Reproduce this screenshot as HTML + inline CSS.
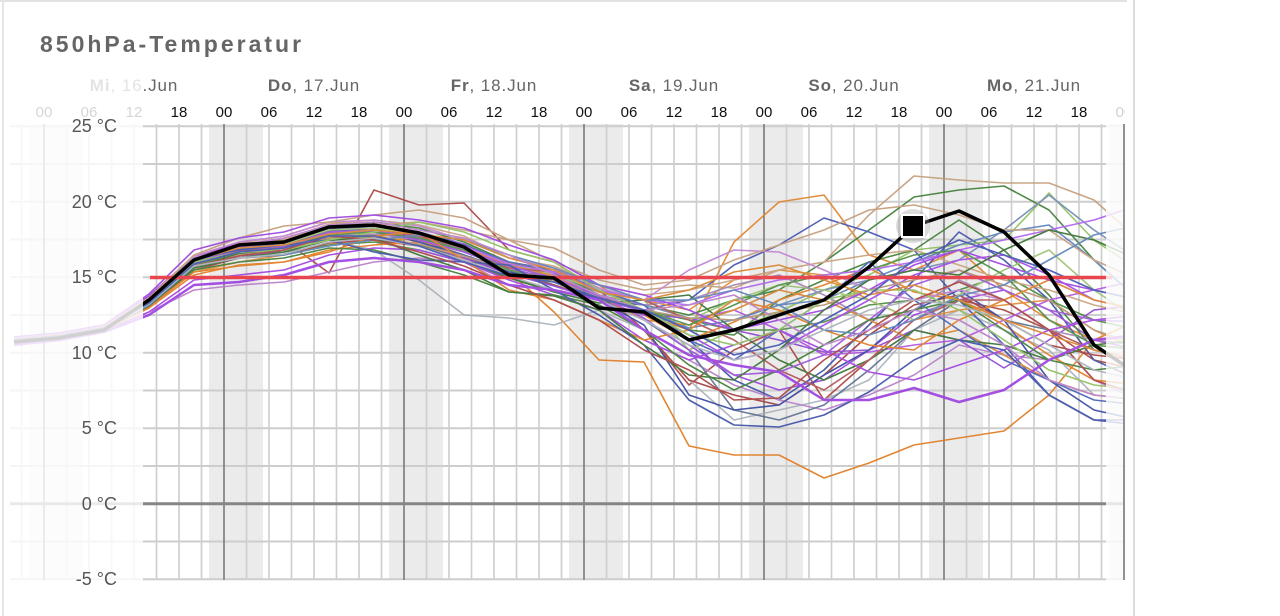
<!DOCTYPE html>
<html><head><meta charset="utf-8">
<style>
html,body{margin:0;padding:0;background:#fff;}
svg{display:block;}
text{font-family:"Liberation Sans",Arial,sans-serif;}
</style></head>
<body>
<svg width="1280" height="616" viewBox="0 0 1280 616" xmlns="http://www.w3.org/2000/svg">
<defs>
<clipPath id="cp"><rect x="8" y="0" width="1117" height="616"/></clipPath>
</defs>
<rect width="1280" height="616" fill="#fff"/>
<rect x="0" y="0" width="1127" height="2" fill="#e2e2e2"/>
<rect x="2" y="0" width="2" height="616" fill="#e6e6e6"/>
<rect x="1133" y="0" width="2" height="616" fill="#dcdcdc"/>

<text x="40" y="52" font-size="23" font-weight="bold" fill="#666" letter-spacing="3">850hPa-Temperatur</text>

<g clip-path="url(#cp)">
<g fill="#ebebeb">
<rect x="29" y="124" width="54" height="456"/>
<rect x="209" y="124" width="54" height="456"/>
<rect x="389" y="124" width="54" height="456"/>
<rect x="569" y="124" width="54" height="456"/>
<rect x="749" y="124" width="54" height="456"/>
<rect x="929" y="124" width="54" height="456"/>
<rect x="1109" y="124" width="54" height="456"/>
</g>
<path d="M10 126.2H1125M10 164H1125M10 201.7H1125M10 239.5H1125M10 277.2H1125M10 315H1125M10 352.7H1125M10 390.5H1125M10 428.2H1125M10 466H1125M10 541.5H1125M10 579.2H1125" stroke="#cdcdcd" stroke-width="2" fill="none"/>
<path d="M21.5 124V580M66.5 124V580M89 124V580M111.5 124V580M134 124V580M156.5 124V580M179 124V580M201.5 124V580M246.5 124V580M269 124V580M291.5 124V580M314 124V580M336.5 124V580M359 124V580M381.5 124V580M426.5 124V580M449 124V580M471.5 124V580M494 124V580M516.5 124V580M539 124V580M561.5 124V580M606.5 124V580M629 124V580M651.5 124V580M674 124V580M696.5 124V580M719 124V580M741.5 124V580M786.5 124V580M809 124V580M831.5 124V580M854 124V580M876.5 124V580M899 124V580M921.5 124V580M966.5 124V580M989 124V580M1011.5 124V580M1034 124V580M1056.5 124V580M1079 124V580M1101.5 124V580" stroke="#cfcfcf" stroke-width="1.7" fill="none"/>
<path d="M44 124V580M224 124V580M404 124V580M584 124V580M764 124V580M944 124V580M1124 124V580" stroke="#7a7a7a" stroke-width="1.6" fill="none"/>
<path d="M10 503.7H1125" stroke="#858585" stroke-width="3" fill="none"/>

<g font-size="17" fill="#666" text-anchor="middle" letter-spacing="0.9">
<text x="134" y="91"><tspan font-weight="bold">Mi</tspan>, 16.Jun</text>
<text x="314" y="91"><tspan font-weight="bold">Do</tspan>, 17.Jun</text>
<text x="494" y="91"><tspan font-weight="bold">Fr</tspan>, 18.Jun</text>
<text x="674" y="91"><tspan font-weight="bold">Sa</tspan>, 19.Jun</text>
<text x="854" y="91"><tspan font-weight="bold">So</tspan>, 20.Jun</text>
<text x="1034" y="91"><tspan font-weight="bold">Mo</tspan>, 21.Jun</text>
</g>
<g font-size="15" fill="#111" text-anchor="middle">
<text x="44" y="117">00</text><text x="89" y="117">06</text><text x="134" y="117">12</text><text x="179" y="117">18</text>
<text x="224" y="117">00</text><text x="269" y="117">06</text><text x="314" y="117">12</text><text x="359" y="117">18</text>
<text x="404" y="117">00</text><text x="449" y="117">06</text><text x="494" y="117">12</text><text x="539" y="117">18</text>
<text x="584" y="117">00</text><text x="629" y="117">06</text><text x="674" y="117">12</text><text x="719" y="117">18</text>
<text x="764" y="117">00</text><text x="809" y="117">06</text><text x="854" y="117">12</text><text x="899" y="117">18</text>
<text x="944" y="117">00</text><text x="989" y="117">06</text><text x="1034" y="117">12</text><text x="1079" y="117">18</text>
<text x="1124" y="117">00</text>
</g>

<g fill="none" stroke-width="1.6" stroke-linejoin="round" opacity="0.9">
<polyline stroke="#e07a1f" points="14,340 59,336 104,328 149,305 194,265 239,255 284,250 329,238 374,235 419,245 464,258 509,272 554,312 599,360 644,362 689,446 734,455 779,455 824,478 869,463 914,445 959,438 1004,431 1049,395 1094,340 1139,320"/>
<polyline stroke="#e0822a" points="14,338 59,334 104,326 149,300 194,262 239,250 284,245 329,232 374,228 419,236 464,250 509,270 554,280 599,300 644,315 689,330 734,242 779,202 824,195 869,255 914,270 959,250 1004,290 1049,320 1094,340 1139,350"/>
<polyline stroke="#a8403c" points="14,342 59,338 104,330 149,300 194,262 239,250 284,240 329,273 374,190 419,205 464,203 509,250 554,262 599,290 644,330 689,385 734,350 779,330 824,400 869,360 914,330 959,300 1004,310 1049,330 1094,360 1139,370"/>
<polyline stroke="#a8b0b8" points="14,338 59,334 104,326 149,305 194,268 239,255 284,250 329,240 374,250 419,280 464,315 509,318 554,325 599,310 644,330 689,380 734,420 779,410 824,400 869,380 914,330 959,310 1004,330 1049,350 1094,395 1139,400"/>
<polyline stroke="#3e7d35" points="14,340 59,336 104,327 149,302 194,262 239,248 284,244 329,230 374,225 419,240 464,255 509,272 554,275 599,300 644,305 689,315 734,300 779,290 824,262 869,230 914,197 959,190 1004,186 1049,210 1094,260 1139,300"/>
<polyline stroke="#c49c7a" points="14,338 59,334 104,326 149,298 194,258 239,243 284,236 329,222 374,215 419,210 464,218 509,240 554,262 599,280 644,290 689,285 734,288 779,270 824,262 869,215 914,176 959,180 1004,183 1049,183 1094,200 1139,240"/>
<polyline stroke="#3b4ea5" points="14,341 59,337 104,329 149,305 194,263 239,247 284,242 329,228 374,228 419,238 464,252 509,268 554,272 599,300 644,305 689,340 734,380 779,400 824,370 869,325 914,280 959,232 1004,260 1049,300 1094,360 1139,380"/>
<polyline stroke="#4050b0" points="14,339 59,335 104,327 149,300 194,258 239,246 284,240 329,228 374,232 419,242 464,255 509,270 554,285 599,300 644,310 689,300 734,265 779,245 824,218 869,232 914,250 959,300 1004,345 1049,395 1094,420 1139,420"/>
<polyline stroke="#8cbf5c" points="14,340 59,336 104,328 149,304 194,268 239,252 284,246 329,234 374,232 419,236 464,244 509,262 554,280 599,290 644,300 689,350 734,330 779,312 824,290 869,275 914,250 959,245 1004,240 1049,193 1094,240 1139,270"/>
<polyline stroke="#b77cc8" points="14,342 59,338 104,330 149,312 194,290 239,285 284,282 329,272 374,262 419,258 464,262 509,285 554,300 599,320 644,340 689,360 734,385 779,400 824,410 869,395 914,375 959,345 1004,355 1049,360 1094,340 1139,335"/>
<polyline stroke="#5c6d90" points="14,339 59,335 104,327 149,302 194,262 239,250 284,246 329,232 374,230 419,240 464,250 509,270 554,285 599,300 644,320 689,350 734,410 779,420 824,405 869,370 914,330 959,300 1004,320 1049,330 1094,380 1139,395"/>
<polyline stroke="#e08a30" points="14,341 59,337 104,329 149,306 194,272 239,262 284,255 329,245 374,238 419,240 464,248 509,262 554,275 599,290 644,300 689,310 734,280 779,270 824,275 869,300 914,320 959,310 1004,305 1049,300 1094,330 1139,350"/>
<polyline stroke="#4a8a3c" points="14,340 59,336 104,328 149,304 194,266 239,254 284,252 329,245 374,242 419,250 464,262 509,278 554,290 599,300 644,310 689,320 734,330 779,330 824,322 869,305 914,300 959,290 1004,275 1049,300 1094,320 1139,330"/>
<polyline stroke="#9a40d8" points="14,337 59,333 104,325 149,296 194,256 239,244 284,240 329,226 374,225 419,232 464,244 509,266 554,274 599,295 644,320 689,345 734,375 779,390 824,380 869,350 914,315 959,300 1004,290 1049,310 1094,340 1139,350"/>
<polyline stroke="#7088b0" points="14,340 59,336 104,328 149,302 194,265 239,252 284,248 329,233 374,230 419,238 464,248 509,266 554,276 599,292 644,305 689,318 734,320 779,305 824,290 869,280 914,270 959,260 1004,230 1049,195 1094,230 1139,260"/>
<polyline stroke="#a33a3a" points="14,342 59,338 104,330 149,307 194,270 239,258 284,255 329,243 374,240 419,246 464,258 509,274 554,285 599,300 644,330 689,380 734,395 779,405 824,375 869,335 914,305 959,295 1004,320 1049,345 1094,355 1139,360"/>
<polyline stroke="#3f7f34" points="14,339 59,335 104,327 149,300 194,260 239,246 284,240 329,226 374,222 419,228 464,242 509,262 554,272 599,295 644,310 689,330 734,335 779,300 824,280 869,262 914,250 959,220 1004,250 1049,295 1094,350 1139,360"/>
<polyline stroke="#b050e0" points="14,341 59,337 104,329 149,304 194,264 239,250 284,246 329,232 374,230 419,236 464,248 509,266 554,272 599,290 644,300 689,320 734,310 779,330 824,355 869,352 914,345 959,340 1004,320 1049,300 1094,290 1139,280"/>
<polyline stroke="#c8a07c" points="14,338 59,334 104,326 149,300 194,262 239,248 284,240 329,224 374,220 419,225 464,236 509,258 554,266 599,285 644,295 689,290 734,280 779,270 824,262 869,255 914,250 959,265 1004,280 1049,290 1094,305 1139,315"/>
<polyline stroke="#e27b22" points="14,342 59,338 104,330 149,308 194,275 239,265 284,262 329,250 374,245 419,242 464,250 509,262 554,270 599,285 644,315 689,340 734,322 779,300 824,285 869,268 914,292 959,300 1004,325 1049,355 1094,380 1139,385"/>
<polyline stroke="#5a7fb8" points="14,340 59,336 104,328 149,303 194,264 239,250 284,245 329,232 374,232 419,238 464,252 509,268 554,280 599,295 644,310 689,328 734,320 779,305 824,300 869,280 914,262 959,245 1004,232 1049,225 1094,260 1139,300"/>
<polyline stroke="#8e44d0" points="14,341 59,337 104,329 149,306 194,268 239,256 284,252 329,240 374,238 419,246 464,258 509,274 554,286 599,300 644,315 689,318 734,330 779,340 824,352 869,350 914,330 959,340 1004,368 1049,340 1094,310 1139,305"/>
<polyline stroke="#3445a0" points="14,340 59,336 104,328 149,302 194,262 239,249 284,246 329,231 374,230 419,242 464,256 509,272 554,282 599,300 644,325 689,395 734,410 779,405 824,375 869,350 914,310 959,290 1004,320 1049,380 1094,410 1139,420"/>
<polyline stroke="#9ac070" points="14,339 59,335 104,327 149,301 194,262 239,248 284,244 329,230 374,228 419,234 464,246 509,264 554,275 599,290 644,300 689,320 734,300 779,285 824,290 869,300 914,320 959,295 1004,270 1049,250 1094,290 1139,320"/>
<polyline stroke="#a080b0" points="14,340 59,336 104,328 149,303 194,266 239,252 284,248 329,236 374,234 419,240 464,252 509,268 554,280 599,295 644,305 689,300 734,285 779,275 824,295 869,320 914,310 959,280 1004,300 1049,330 1094,340 1139,345"/>
<polyline stroke="#d9822b" points="14,339 59,335 104,327 149,300 194,261 239,246 284,241 329,227 374,224 419,232 464,246 509,265 554,276 599,296 644,320 689,325 734,310 779,290 824,300 869,320 914,340 959,330 1004,355 1049,380 1094,395 1139,400"/>
<polyline stroke="#a245e6" points="14,340 59,336 104,328 149,304 194,265 239,251 284,247 329,233 374,231 419,240 464,252 509,268 554,280 599,298 644,312 689,335 734,360 779,350 824,325 869,300 914,275 959,260 1004,255 1049,275 1094,300 1139,310"/>
<polyline stroke="#356f2d" points="14,341 59,337 104,329 149,305 194,266 239,254 284,250 329,238 374,236 419,245 464,260 509,278 554,292 599,303 644,300 689,295 734,330 779,360 824,380 869,360 914,330 959,340 1004,345 1049,360 1094,345 1139,340"/>
<polyline stroke="#b05050" points="14,340 59,336 104,328 149,303 194,264 239,251 284,246 329,232 374,230 419,236 464,248 509,268 554,272 599,285 644,300 689,320 734,340 779,370 824,390 869,360 914,320 959,300 1004,300 1049,330 1094,350 1139,360"/>
<polyline stroke="#4860b8" points="14,339 59,335 104,327 149,302 194,262 239,248 284,243 329,228 374,226 419,232 464,245 509,262 554,270 599,290 644,305 689,340 734,360 779,330 824,300 869,262 914,300 959,330 1004,360 1049,380 1094,400 1139,405"/>
<polyline stroke="#9c50d8" points="14,340 59,336 104,328 149,303 194,262 239,250 284,246 329,232 374,230 419,238 464,250 509,266 554,278 599,296 644,318 689,350 734,375 779,372 824,355 869,320 914,285 959,270 1004,290 1049,310 1094,320 1139,322"/>
<polyline stroke="#c080d0" points="14,338 59,334 104,326 149,298 194,256 239,242 284,236 329,222 374,220 419,226 464,240 509,258 554,268 599,288 644,300 689,270 734,250 779,252 824,270 869,290 914,300 959,290 1004,300 1049,330 1094,380 1139,400"/>
<polyline stroke="#b89070" points="14,341 59,337 104,329 149,305 194,268 239,255 284,250 329,238 374,238 419,244 464,256 509,270 554,280 599,298 644,310 689,318 734,320 779,312 824,305 869,290 914,280 959,270 1004,285 1049,300 1094,330 1139,345"/>
<polyline stroke="#4d8c40" points="14,340 59,336 104,328 149,303 194,266 239,252 284,248 329,235 374,232 419,238 464,250 509,270 554,282 599,298 644,310 689,325 734,305 779,285 824,275 869,270 914,255 959,250 1004,275 1049,320 1094,345 1139,350"/>
<polyline stroke="#b060f0" points="14,339 59,335 104,327 149,301 194,260 239,247 284,242 329,228 374,226 419,234 464,246 509,264 554,272 599,290 644,300 689,305 734,290 779,280 824,275 869,270 914,262 959,250 1004,240 1049,230 1094,220 1139,205"/>
<polyline stroke="#a040e0" points="14,344 59,340 104,331 149,312 194,280 239,275 284,270 329,255 374,248 419,250 464,262 509,280 554,295 599,310 644,340 689,360 734,345 779,330 824,350 869,372 914,380 959,365 1004,350 1049,330 1094,320 1139,315"/>
<polyline stroke="#e07a1f" points="14,341 59,337 104,329 149,307 194,272 239,266 284,262 329,252 374,236 419,232 464,260 509,290 554,300 599,320 644,340 689,330 734,300 779,310 824,330 869,345 914,350 959,320 1004,300 1049,280 1094,300 1139,310"/>
<polyline stroke="#3e7d35" points="14,340 59,336 104,328 149,304 194,270 239,262 284,258 329,248 374,250 419,262 464,275 509,292 554,295 599,305 644,330 689,365 734,390 779,370 824,345 869,320 914,310 959,300 1004,330 1049,360 1094,370 1139,365"/>
<polyline stroke="#3b4ea5" points="14,339 59,335 104,327 149,300 194,258 239,250 284,245 329,240 374,252 419,260 464,262 509,265 554,290 599,315 644,345 689,400 734,425 779,427 824,415 869,392 914,360 959,340 1004,350 1049,395 1094,420 1139,425"/>
<polyline stroke="#c49c7a" points="14,338 59,334 104,326 149,298 194,255 239,238 284,226 329,222 374,225 419,222 464,230 509,240 554,248 599,270 644,285 689,280 734,260 779,245 824,230 869,210 914,205 959,215 1004,230 1049,230 1094,260 1139,280"/>
<polyline stroke="#9b3fe0" points="14,337 59,333 104,325 149,294 194,250 239,238 284,232 329,218 374,215 419,220 464,228 509,245 554,260 599,285 644,295 689,310 734,330 779,320 824,310 869,290 914,265 959,250 1004,265 1049,280 1094,290 1139,300"/>
<polyline stroke="#356f2d" points="14,341 59,337 104,329 149,306 194,268 239,258 284,252 329,240 374,238 419,255 464,270 509,292 554,296 599,310 644,345 689,375 734,380 779,350 824,310 869,280 914,270 959,275 1004,250 1049,230 1094,240 1139,260"/>
<polyline stroke="#8cbf5c" points="14,340 59,336 104,328 149,302 194,262 239,252 284,250 329,240 374,232 419,222 464,232 509,250 554,262 599,290 644,310 689,335 734,345 779,330 824,300 869,290 914,290 959,310 1004,340 1049,370 1094,385 1139,390"/>
<polyline stroke="#5a7fb8" points="14,341 59,337 104,329 149,305 194,266 239,258 284,255 329,246 374,240 419,235 464,240 509,255 554,268 599,285 644,300 689,300 734,290 779,305 824,330 869,335 914,320 959,296 1004,285 1049,260 1094,235 1139,225"/>
<polyline stroke="#a8403c" points="14,340 59,336 104,328 149,303 194,266 239,256 284,250 329,236 374,240 419,252 464,266 509,285 554,300 599,320 644,350 689,370 734,400 779,398 824,360 869,330 914,300 959,282 1004,300 1049,330 1094,380 1139,395"/>
<polyline stroke="#a8b0b8" points="14,341 59,337 104,329 149,304 194,266 239,258 284,254 329,242 374,238 419,246 464,260 509,276 554,290 599,300 644,320 689,345 734,360 779,350 824,330 869,310 914,300 959,305 1004,320 1049,345 1094,370 1139,380"/>
<polyline stroke="#d9822b" points="14,339 59,335 104,327 149,301 194,260 239,248 284,245 329,234 374,230 419,234 464,240 509,258 554,270 599,292 644,300 689,290 734,272 779,265 824,280 869,295 914,285 959,300 1004,320 1049,335 1094,350 1139,360"/>
<polyline stroke="#b77cc8" points="14,338 59,334 104,326 149,300 194,258 239,245 284,238 329,225 374,222 419,230 464,238 509,255 554,275 599,295 644,310 689,305 734,295 779,320 824,345 869,330 914,310 959,320 1004,345 1049,380 1094,395 1139,400"/>
<polyline stroke="#4050b0" points="14,340 59,336 104,328 149,303 194,264 239,252 284,248 329,236 374,236 419,246 464,262 509,276 554,282 599,298 644,310 689,330 734,355 779,345 824,320 869,295 914,260 959,240 1004,255 1049,270 1094,290 1139,300"/>
<polyline stroke="#9b3fe0" stroke-width="2.5" points="14,345 59,340 104,332 149,315 194,285 239,282 284,275 329,262 374,258 419,262 464,270 509,285 554,290 599,300 644,330 689,355 734,365 779,372 824,400 869,400 914,388 959,402 1004,390 1049,360 1094,340 1139,335"/>
</g>

<path d="M150 277.5H1112" stroke="#e8464e" stroke-width="3.5" fill="none"/>

<polyline fill="none" stroke="#000" stroke-width="3.5" stroke-linejoin="round" points="14,342 59,338 104,330 149,300 194,260 239,245 284,242 329,227 374,225 419,233 464,247 509,275 554,278 599,308 644,312 689,340 734,330 779,315 824,300 869,267 914,226 959,211 1004,232 1049,275 1094,345 1139,375"/>

<rect x="8" y="60" width="135" height="540" fill="#fff" opacity="0.82"/>
<rect x="1106" y="60" width="19" height="540" fill="#fff" opacity="0.8"/>
<path d="M1124 124V580" stroke="#7a7a7a" stroke-width="1.6"/>
</g>

<circle cx="913" cy="226" r="17" fill="#999" opacity="0.35"/>
<rect x="902" y="215" width="22" height="22" fill="#000" stroke="#fff" stroke-width="2"/>

<g font-size="18" fill="#555" text-anchor="end">
<text x="117" y="132">25 °C</text>
<text x="117" y="208">20 °C</text>
<text x="117" y="283">15 °C</text>
<text x="117" y="359">10 °C</text>
<text x="117" y="434">5 °C</text>
<text x="117" y="510">0 °C</text>
<text x="117" y="585">-5 °C</text>
</g>
</svg>
</body></html>
